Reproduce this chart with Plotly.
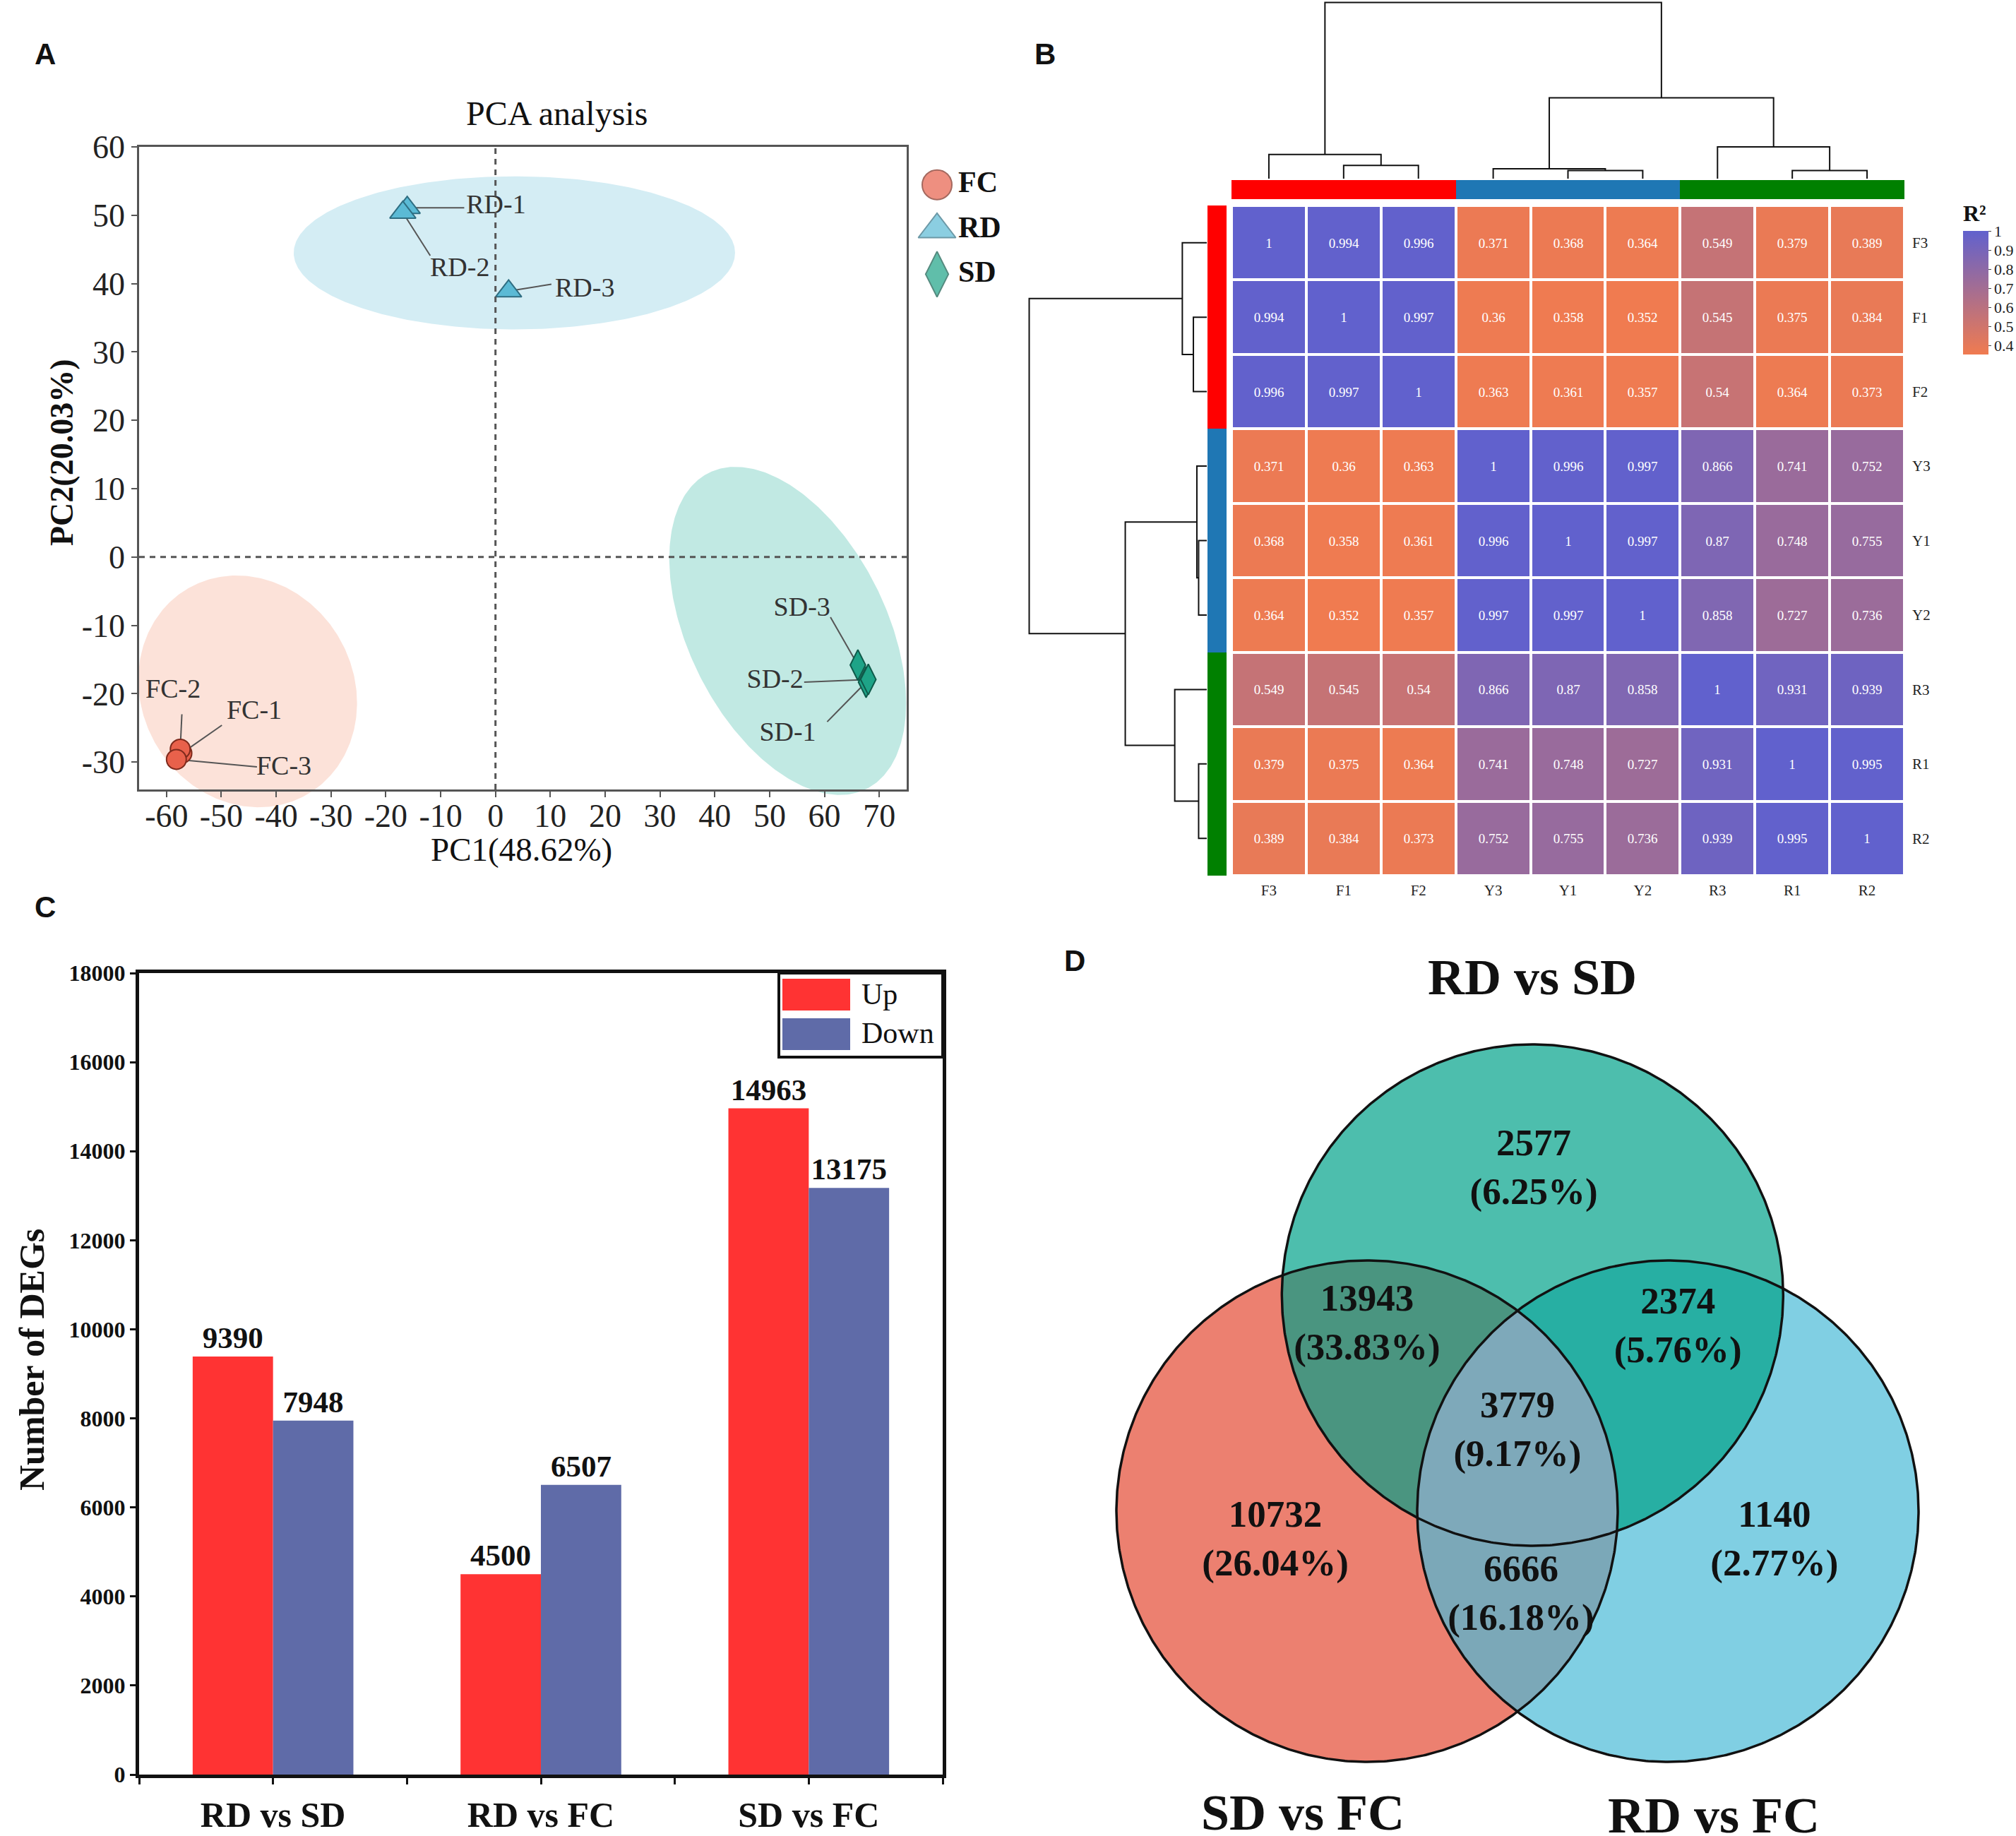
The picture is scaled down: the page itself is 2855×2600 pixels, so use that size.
import numpy as np
import plotly.graph_objects as go

W, H = 2855, 2600
SERIF = "Liberation Serif"
SANS = "Liberation Sans"


def fx(p):
    return p / W


def fy(p):
    return 1 - p / H


# ---------------- Panel A: PCA data ----------------
pca_names = ["FC-1", "FC-2", "FC-3", "RD-1", "RD-2", "RD-3", "SD-1", "SD-2", "SD-3"]
pca_group = ["FC", "FC", "FC", "RD", "RD", "RD", "SD", "SD", "SD"]
pca_pc1 = [-57.2, -57.5, -58.2, -16.1, -16.9, 2.4, 67.6, 68.0, 66.1]
pca_pc2 = [-28.7, -28.1, -29.6, 51.1, 50.4, 38.9, -18.3, -17.9, -15.8]
# label text anchors and leader-line ends (data units)
label_x = [-44.0, -58.8, -38.6, 0.1, -6.5, 16.3, 53.3, 51.0, 55.9]
label_y = [-22.7, -19.6, -30.8, 51.3, 42.1, 39.1, -25.9, -18.1, -7.6]
leader_x = [-49.9, -57.2, -43.5, -5.7, -11.9, 10.2, 60.5, 56.3, 61.1]
leader_y = [-24.6, -23.0, -30.7, 51.1, 44.1, 39.9, -24.1, -18.3, -8.8]

groups = ["FC", "RD", "SD"]
group_fill = ["#E8614B", "#5BBAD5", "#1EA387"]
group_line = ["#7E2A1C", "#2F6E82", "#0E5A4A"]
group_symbol = ["circle", "triangle-up", "diamond-tall"]
group_size = [28, 32, 31]
# confidence ellipses: centre, radii, cos(phase) (tilt)
ell_cx = [-45.2, 3.45, 53.3]
ell_cy = [-19.65, 44.5, -10.8]
ell_rx = [19.95, 40.25, 21.6]
ell_ry = [16.95, 11.2, 24.0]
ell_cosphi = [-0.10, 0.0, -0.44]
ell_fill = ["#FCE2D9", "#D4EDF4", "#C1E9E3"]
pca_xrange = [-65, 75]
pca_yrange = [-34, 60]
pca_xticks = list(range(-60, 71, 10))
pca_yticks = list(range(-30, 61, 10))

# ---------------- Panel B: correlation heatmap ----------------
samples = ["F3", "F1", "F2", "Y3", "Y1", "Y2", "R3", "R1", "R2"]
corr = [
    [1, 0.994, 0.996, 0.371, 0.368, 0.364, 0.549, 0.379, 0.389],
    [0.994, 1, 0.997, 0.36, 0.358, 0.352, 0.545, 0.375, 0.384],
    [0.996, 0.997, 1, 0.363, 0.361, 0.357, 0.54, 0.364, 0.373],
    [0.371, 0.36, 0.363, 1, 0.996, 0.997, 0.866, 0.741, 0.752],
    [0.368, 0.358, 0.361, 0.996, 1, 0.997, 0.87, 0.748, 0.755],
    [0.364, 0.352, 0.357, 0.997, 0.997, 1, 0.858, 0.727, 0.736],
    [0.549, 0.545, 0.54, 0.866, 0.87, 0.858, 1, 0.931, 0.939],
    [0.379, 0.375, 0.364, 0.741, 0.748, 0.727, 0.931, 1, 0.995],
    [0.389, 0.384, 0.373, 0.752, 0.755, 0.736, 0.939, 0.995, 1],
]
group_codes = {"F": 0, "Y": 1, "R": 2}
group_bar_colors = ["#FF0000", "#1F77B4", "#008000"]
# dendrogram linkage (leaves 0..8, new nodes 9..16)
merge_left = [1, 0, 4, 3, 7, 6, 12, 10]
merge_right = [2, 9, 5, 11, 8, 13, 14, 15]
merge_height = [23, 42, 14, 17, 14, 55, 140, 305]
cbar_ticks = [0.4, 0.5, 0.6, 0.7, 0.8, 0.9, 1.0]

# ---------------- Panel C: DEG bars ----------------
comparisons = ["RD vs SD", "RD vs FC", "SD vs FC"]
deg_up = [9390, 4500, 14963]
deg_down = [7948, 6507, 13175]

# ---------------- Panel D: Venn ----------------
venn_sets = ["RD vs SD", "SD vs FC", "RD vs FC"]
venn_cx = [0.06, -0.6, 0.6]
venn_cy = [0.862, 0.0, 0.0]
venn_r = [1.0, 1.0, 1.0]
venn_regions = [(0,), (1,), (2,), (0, 1), (0, 2), (1, 2), (0, 1, 2)]
venn_counts = [2577, 10732, 1140, 13943, 2374, 6666, 3779]
venn_colors = ["#4DBEAD", "#EC8070", "#80CFE3", "#4A9580", "#27AFA3", "#7BA8B8", "#7EA9BA"]
venn_lab_x = [0.065, -0.966, 1.025, -0.60, 0.64, 0.014, 0.0]
venn_lab_y = [1.36, -0.121, -0.121, 0.74, 0.73, -0.338, 0.315]

fig = go.Figure()

# ======== Panel A ========
fr_x0, fr_x1, fr_y0, fr_y1 = 197, 1284, 208, 1118
ext = 60
sxp = (fr_x1 - fr_x0) / (pca_xrange[1] - pca_xrange[0])
syp = (fr_y1 - fr_y0) / (pca_yrange[1] - pca_yrange[0])
data_xrange = [pca_xrange[0] - ext / sxp, pca_xrange[1] + ext / sxp]
data_yrange = [pca_yrange[0] - ext / syp, pca_yrange[1] + ext / syp]

t = np.linspace(0, 2 * np.pi, 361)
for i, g in enumerate(groups):
    phi = np.arccos(ell_cosphi[i])
    ex = ell_cx[i] + ell_rx[i] * np.cos(t)
    ey = ell_cy[i] + ell_ry[i] * np.cos(t - phi)
    fig.add_trace(go.Scatter(x=ex, y=ey, mode="lines", fill="toself",
                             fillcolor=ell_fill[i], line=dict(width=0),
                             hoverinfo="skip", xaxis="x", yaxis="y"))

lx, ly = [], []
for i in range(len(pca_names)):
    lx += [pca_pc1[i], leader_x[i], None]
    ly += [pca_pc2[i], leader_y[i], None]
fig.add_trace(go.Scatter(x=lx, y=ly, mode="lines", line=dict(color="#555555", width=2),
                         hoverinfo="skip", xaxis="x", yaxis="y"))

for gi, g in enumerate(groups):
    idx = [i for i, gg in enumerate(pca_group) if gg == g]
    fig.add_trace(go.Scatter(
        x=[pca_pc1[i] for i in idx], y=[pca_pc2[i] for i in idx], mode="markers",
        marker=dict(symbol=group_symbol[gi], size=group_size[gi], color=group_fill[gi],
                    line=dict(color=group_line[gi], width=2)),
        xaxis="x", yaxis="y", name=g, cliponaxis=False))

fig.add_trace(go.Scatter(x=label_x, y=label_y, mode="text", text=pca_names,
                         textposition="middle center",
                         textfont=dict(family=SERIF, size=38, color="#333333"),
                         xaxis="x", yaxis="y", cliponaxis=False, hoverinfo="skip"))

# ======== Panel B ========
hm_x0, hm_x1, hm_y0, hm_y1 = 1744, 2697, 291, 1240
zvals = [v for row in corr for v in row]
fig.add_trace(go.Heatmap(
    z=corr, x=list(range(len(samples))), y=list(range(len(samples))),
    colorscale=[[0, "#F07B50"], [1, "#6161CD"]],
    zmin=min(zvals), zmax=max(zvals), xgap=4, ygap=4,
    text=[[f"{v:g}" for v in row] for row in corr], texttemplate="%{text}",
    textfont=dict(family=SERIF, size=19, color="white"),
    colorbar=dict(thickness=36, thicknessmode="pixels", len=216, lenmode="pixels",
                  x=fx(2780), xanchor="left", y=fy(394), yanchor="middle",
                  xpad=0, ypad=0, outlinewidth=0,
                  tickvals=cbar_ticks, ticktext=[f"{v:g}" for v in cbar_ticks],
                  ticks="outside", ticklen=4, tickcolor="#444",
                  tickfont=dict(family=SERIF, size=22, color="#222"),
                  title=dict(text="<b>R²</b>", side="top",
                             font=dict(family=SERIF, size=32, color="#111"))),
    xaxis="x2", yaxis="y2", hoverinfo="skip"))

gcodes = [group_codes[s[0]] for s in samples]
gscale = [[0, group_bar_colors[0]], [1 / 3, group_bar_colors[0]],
          [1 / 3, group_bar_colors[1]], [2 / 3, group_bar_colors[1]],
          [2 / 3, group_bar_colors[2]], [1, group_bar_colors[2]]]
fig.add_trace(go.Heatmap(z=[gcodes], x=list(range(len(samples))), y=[0],
                         colorscale=gscale, zmin=-0.5, zmax=2.5, showscale=False,
                         xaxis="x8", yaxis="y8", hoverinfo="skip"))
fig.add_trace(go.Heatmap(z=[[c] for c in gcodes], x=[0], y=list(range(len(samples))),
                         colorscale=gscale, zmin=-0.5, zmax=2.5, showscale=False,
                         xaxis="x9", yaxis="y9", hoverinfo="skip"))

# dendrograms
npos = list(range(len(samples)))
nh = [0.0] * len(samples)
dpos, dh = [], []
for l, r, h in zip(merge_left, merge_right, merge_height):
    dpos += [npos[l], npos[l], npos[r], npos[r], None]
    dh += [nh[l], h, h, nh[r], None]
    npos.append((npos[l] + npos[r]) / 2)
    nh.append(h)
fig.add_trace(go.Scatter(x=dpos, y=dh, mode="lines", line=dict(color="#111", width=2),
                         xaxis="x3", yaxis="y3", hoverinfo="skip"))
fig.add_trace(go.Scatter(x=dh, y=dpos, mode="lines", line=dict(color="#111", width=2),
                         xaxis="x4", yaxis="y4", hoverinfo="skip"))

# ======== PCA frame (drawn above data subplot) ========
fig.add_trace(go.Scatter(x=[0], y=[0], mode="markers", marker=dict(opacity=0),
                         xaxis="x5", yaxis="y5", hoverinfo="skip"))

# ======== Panel C ========
bx0, bx1, by0, by1 = 197, 1335, 1378, 2513
xs = list(range(len(comparisons)))
fig.add_trace(go.Bar(x=xs, y=deg_up, name="Up", marker=dict(color="#FF3333", line=dict(width=0)),
                     text=[str(v) for v in deg_up], textposition="outside",
                     constraintext="none", cliponaxis=False,
                     textfont=dict(family=SERIF, size=43, color="#111", weight="bold"),
                     xaxis="x6", yaxis="y6"))
fig.add_trace(go.Bar(x=xs, y=deg_down, name="Down", marker=dict(color="#5F6BA8", line=dict(width=0)),
                     text=[str(v) for v in deg_down], textposition="outside",
                     constraintext="none", cliponaxis=False,
                     textfont=dict(family=SERIF, size=43, color="#111", weight="bold"),
                     xaxis="x6", yaxis="y6"))

# ======== Panel D ========
vx0, vx1, vy0, vy1 = 1560, 2760, 1420, 2560
vscale = 355.0
vox, voy = 2149, 2140
tt = np.linspace(0, 2 * np.pi, 3000, endpoint=False)


def region_poly(ids):
    pts = []
    for i in ids:
        x = venn_cx[i] + venn_r[i] * np.cos(tt)
        y = venn_cy[i] + venn_r[i] * np.sin(tt)
        m = np.ones_like(tt, dtype=bool)
        for j in ids:
            if j != i:
                m &= (x - venn_cx[j]) ** 2 + (y - venn_cy[j]) ** 2 <= venn_r[j] ** 2 + 1e-9
        pts.append(np.c_[x[m], y[m]])
    P = np.vstack(pts)
    c = P.mean(axis=0)
    P = P[np.argsort(np.arctan2(P[:, 1] - c[1], P[:, 0] - c[0]))]
    P = np.vstack([P, P[:1]])
    return P[:, 0], P[:, 1]


for reg, col in zip(venn_regions, venn_colors):
    rx, ry = region_poly(reg)
    fig.add_trace(go.Scatter(x=rx, y=ry, mode="lines", fill="toself", fillcolor=col,
                             line=dict(width=0, color=col), xaxis="x7", yaxis="y7",
                             hoverinfo="skip"))
for i in range(3):
    cx = venn_cx[i] + venn_r[i] * np.cos(np.linspace(0, 2 * np.pi, 721))
    cy = venn_cy[i] + venn_r[i] * np.sin(np.linspace(0, 2 * np.pi, 721))
    fig.add_trace(go.Scatter(x=cx, y=cy, mode="lines", line=dict(color="#111", width=3.5),
                             xaxis="x7", yaxis="y7", hoverinfo="skip"))
total = sum(venn_counts)
fig.add_trace(go.Scatter(
    x=venn_lab_x, y=venn_lab_y, mode="text",
    text=[f"<b>{c}<br>({c / total * 100:.2f}%)</b>" for c in venn_counts],
    textposition="middle center",
    textfont=dict(family=SERIF, size=53, color="#111"),
    xaxis="x7", yaxis="y7", cliponaxis=False, hoverinfo="skip"))

# PCA legend
lg_x0, lg_x1, lg_y0, lg_y1 = 1300, 1450, 230, 420
fig.add_trace(go.Scatter(
    x=[0.18] * 3, y=[2, 1, 0], mode="markers",
    marker=dict(symbol=group_symbol, size=[42, 46, 46], color=group_fill,
                line=dict(color=group_line, width=2)),
    xaxis="x10", yaxis="y10", cliponaxis=False, hoverinfo="skip"))
fig.add_trace(go.Scatter(
    x=[0.38] * 3, y=[2, 1, 0], mode="text", text=[f"<b>{g}</b>" for g in groups],
    textposition="middle right", textfont=dict(family=SERIF, size=42, color="#111"),
    xaxis="x10", yaxis="y10", cliponaxis=False, hoverinfo="skip"))

hidden = dict(visible=False, showgrid=False, zeroline=False)

pca_axis_common = dict(showline=True, linecolor="#555", linewidth=2.5, mirror=True,
                       ticks="outside", ticklen=8, tickwidth=2, tickcolor="#555",
                       showgrid=False, zeroline=False,
                       tickfont=dict(family=SERIF, size=46, color="#222"))

layout = dict(
    width=W, height=H, margin=dict(l=0, r=0, t=0, b=0, autoexpand=False),
    paper_bgcolor="white", plot_bgcolor="rgba(0,0,0,0)",
    showlegend=False, barmode="group", bargap=0.4, bargroupgap=0,
    font=dict(family=SERIF, color="#111"),
    # PCA data (extended, hidden)
    xaxis=dict(domain=[fx(fr_x0 - ext), fx(fr_x1 + ext)], range=data_xrange, anchor="y", **hidden),
    yaxis=dict(domain=[fy(fr_y1 + ext), fy(fr_y0 - ext)], range=data_yrange, anchor="x", **hidden),
    # PCA frame
    xaxis5=dict(domain=[fx(fr_x0), fx(fr_x1)], range=pca_xrange, anchor="y5",
                tickvals=pca_xticks, ticktext=[str(v) for v in pca_xticks],
                ticklabelstandoff=-13, **pca_axis_common),
    yaxis5=dict(domain=[fy(fr_y1), fy(fr_y0)], range=pca_yrange, anchor="x5",
                tickvals=pca_yticks, ticktext=[str(v) for v in pca_yticks], **pca_axis_common),
    # heatmap
    xaxis2=dict(domain=[fx(hm_x0), fx(hm_x1)], range=[-0.5, len(samples) - 0.5], anchor="y2",
                tickvals=list(range(len(samples))), ticktext=samples, ticks="",
                showgrid=False, zeroline=False, showline=False, ticklabelstandoff=6,
                tickfont=dict(family=SERIF, size=21, color="#222")),
    yaxis2=dict(domain=[fy(hm_y1), fy(hm_y0)], range=[len(samples) - 0.5, -0.5], anchor="x2",
                side="right", tickvals=list(range(len(samples))), ticktext=samples, ticks="",
                showgrid=False, zeroline=False, showline=False, ticklabelstandoff=10,
                tickfont=dict(family=SERIF, size=21, color="#222")),
    xaxis3=dict(domain=[fx(hm_x0), fx(hm_x1)], range=[-0.5, len(samples) - 0.5], anchor="y3", **hidden),
    yaxis3=dict(domain=[fy(253), fy(1)], range=[0, max(merge_height) * 1.01], anchor="x3", **hidden),
    xaxis4=dict(domain=[fx(1455), fx(1709)], range=[max(merge_height) * 1.01, 0], anchor="y4", **hidden),
    yaxis4=dict(domain=[fy(hm_y1), fy(hm_y0)], range=[len(samples) - 0.5, -0.5], anchor="x4", **hidden),
    xaxis8=dict(domain=[fx(hm_x0), fx(hm_x1)], range=[-0.5, len(samples) - 0.5], anchor="y8", **hidden),
    yaxis8=dict(domain=[fy(282), fy(255)], range=[-0.5, 0.5], anchor="x8", **hidden),
    xaxis9=dict(domain=[fx(1710), fx(1737)], range=[-0.5, 0.5], anchor="y9", **hidden),
    yaxis9=dict(domain=[fy(hm_y1), fy(hm_y0)], range=[len(samples) - 0.5, -0.5], anchor="x9", **hidden),
    # bars
    xaxis6=dict(domain=[fx(bx0), fx(bx1)], range=[-0.5, len(comparisons) - 0.5], anchor="y6",
                tickvals=xs, ticktext=comparisons, ticks="outside", ticklen=9, tickwidth=3,
                tickcolor="#111", showline=True, linecolor="#111", linewidth=5, mirror=True,
                showgrid=False, zeroline=False,
                minor=dict(tickvals=[-0.5, 0.5, 1.5, 2.5], ticks="outside", ticklen=9,
                           tickwidth=3, tickcolor="#111", showgrid=False),
                tickfont=dict(family=SERIF, size=50, color="#111", weight="bold")),
    yaxis6=dict(domain=[fy(by1), fy(by0)], range=[0, 18000], anchor="x6", dtick=2000,
                ticks="outside", ticklen=8, tickwidth=3, tickcolor="#111",
                showline=True, linecolor="#111", linewidth=5, mirror=True,
                showgrid=False, zeroline=False, tickformat="d",
                tickfont=dict(family=SERIF, size=32, color="#111", weight="bold")),
    # venn
    xaxis7=dict(domain=[fx(vx0), fx(vx1)], range=[(vx0 - vox) / vscale, (vx1 - vox) / vscale],
                anchor="y7", **hidden),
    yaxis7=dict(domain=[fy(vy1), fy(vy0)], range=[(voy - vy1) / vscale, (voy - vy0) / vscale],
                anchor="x7", **hidden),
    # PCA legend
    xaxis10=dict(domain=[fx(lg_x0), fx(lg_x1)], range=[0, 1], anchor="y10", **hidden),
    yaxis10=dict(domain=[fy(lg_y1), fy(lg_y0)], range=[-0.5, 2.5], anchor="x10", **hidden),
)
fig.update_layout(**layout)

# zero reference lines (PCA)
fig.add_shape(type="line", xref="x5 domain", yref="y5", x0=0, x1=1, y0=0, y1=0,
              line=dict(color="#555", width=3, dash="8px,7px"), layer="above")
fig.add_shape(type="line", xref="x5", yref="y5 domain", x0=0, x1=0, y0=0, y1=1,
              line=dict(color="#555", width=3, dash="8px,7px"), layer="above")

# bar legend box
fig.add_shape(type="rect", xref="paper", yref="paper", x0=fx(1103), x1=fx(1335),
              y0=fy(1497), y1=fy(1378), line=dict(color="#111", width=4), fillcolor="white")
fig.add_shape(type="rect", xref="paper", yref="paper", x0=fx(1108), x1=fx(1204),
              y0=fy(1431), y1=fy(1386), line=dict(width=0), fillcolor="#FF3333")
fig.add_shape(type="rect", xref="paper", yref="paper", x0=fx(1108), x1=fx(1204),
              y0=fy(1487), y1=fy(1442), line=dict(width=0), fillcolor="#5F6BA8")

ann = []


def A(text, x, y, size, family=SERIF, angle=0, xanchor="center", color="#111"):
    ann.append(dict(text=text, x=x, y=y, xref="paper", yref="paper", showarrow=False,
                    xanchor=xanchor, yanchor="middle", textangle=angle,
                    font=dict(family=family, size=size, color=color)))


A("<b>A</b>", fx(64), fy(76), 42, SANS)
A("<b>B</b>", fx(1480), fy(76), 42, SANS)
A("<b>C</b>", fx(64), fy(1284), 42, SANS)
A("<b>D</b>", fx(1522), fy(1360), 42, SANS)
A("PCA analysis", fx(788), fy(160), 48)
A("PC1(48.62%)", fx(739), fy(1203), 47)
A("<b>PC2(20.03%)</b>", fx(87), fy(641), 46, angle=-90)
A("<b>Number of DEGs</b>", fx(45), fy(1926), 50, angle=-90)
A("Up", fx(1218), fy(1408), 42, xanchor="left")
A("Down", fx(1218), fy(1463), 42, xanchor="left")
A(f"<b>{venn_sets[0]}</b>", fx(2170), fy(1384), 72)
A(f"<b>{venn_sets[1]}</b>", fx(1845), fy(2567), 72)
A(f"<b>{venn_sets[2]}</b>", fx(2427), fy(2571), 72)
fig.update_layout(annotations=ann)

fig.write_html("out.html", config={"displayModeBar": False},
               post_script="document.body.style.margin='0px';")
